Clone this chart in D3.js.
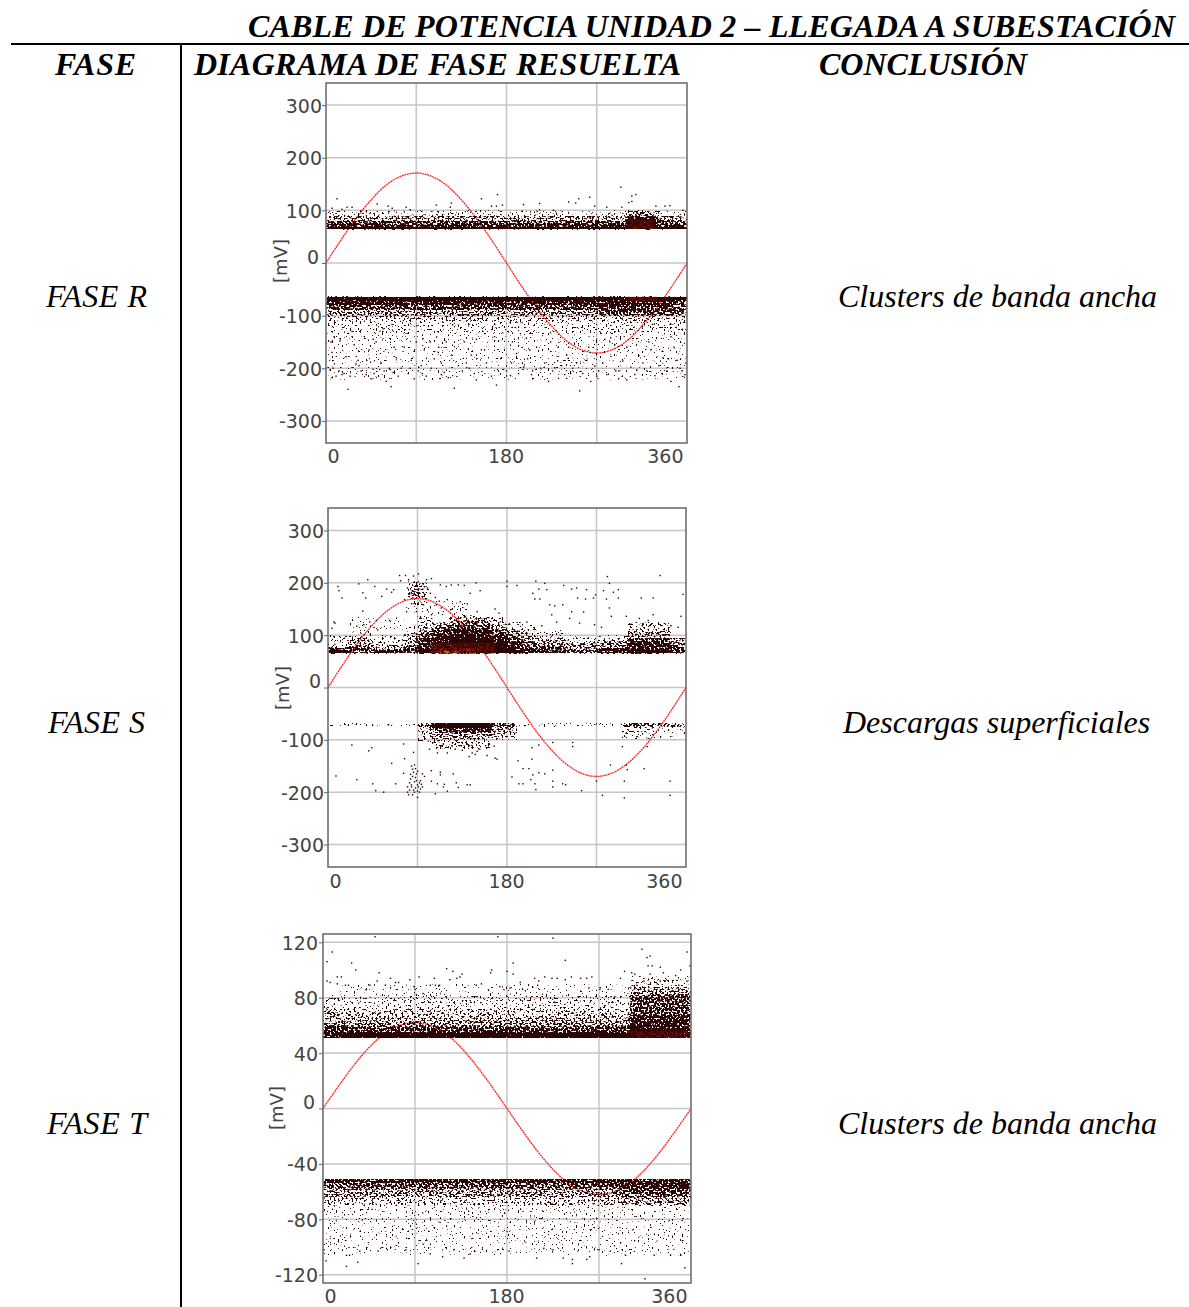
<!DOCTYPE html>
<meta charset="utf-8">

<style type="text/css">
    body { margin: 0; background: #fff; }
    svg { display: block; }
    .head { font: italic bold 32px "Liberation Serif"; fill: #000; }
    .row { font: italic 32px "Liberation Serif"; fill: #000; }
    .tick text, .unit { font-family: "DejaVu Sans"; fill: #444; }
</style>

<body>
<div id="canvas"></div>
</body>

<script src="https://d3js.org/d3.v7.min.js"></script>
<script>

var title = "CABLE DE POTENCIA UNIDAD 2 – LLEGADA A SUBESTACIÓN";
var columns = ["FASE", "DIAGRAMA DE FASE RESUELTA", "CONCLUSIÓN"];
var phases = ["FASE R", "FASE S", "FASE T"];
var conclusions = ["Clusters de banda ancha", "Descargas superficiales", "Clusters de banda ancha"];

var phaseLabels = [0, 180, 360];
var phaseGrid = [90, 180, 270];
var ticksRS = [300, 200, 100, 0, -100, -200, -300];
var ticksT = [120, 80, 40, 0, -40, -80, -120];

// reference wave [phase, mV]
var waveR = [[0,0],[15,44],[30,85],[45,120],[60,148],[75,165],[90,171],[105,165],[120,148],[135,120],[150,85],[165,44],[180,0],[195,-44],[210,-85],[225,-120],[240,-148],[255,-165],[270,-171],[285,-165],[300,-148],[315,-120],[330,-85],[345,-44],[360,0]];
var waveS = [[0,0],[15,44],[30,85],[45,120],[60,147],[75,164],[90,170],[105,164],[120,147],[135,120],[150,85],[165,44],[180,0],[195,-44],[210,-85],[225,-120],[240,-147],[255,-164],[270,-170],[285,-164],[300,-147],[315,-120],[330,-85],[345,-44],[360,0]];
var waveT = [[0,0],[15,16],[30,31],[45,44],[60,54],[75,60],[90,62],[105,60],[120,54],[135,44],[150,31],[165,16],[180,0],[195,-16],[210,-31],[225,-44],[240,-54],[255,-60],[270,-62],[285,-60],[300,-54],[315,-44],[330,-31],[345,-16],[360,0]];

// density [phase from, phase to, mV from, mV to, level]
// level 0-4 = stipple, sparse to dense; 5 solid; 6 faint
var cellsR = [
    [0,300,100,90,0],[0,300,90,80,2],[0,300,80,74,3],[0,300,74,69,4],[0,300,69,64,5],
    [330,360,100,90,0],[330,360,90,80,2],[330,360,80,74,3],[330,360,74,69,4],[330,360,69,64,5],
    [300,330,100,90,2],[300,330,90,84,4],[300,330,84,64,5],
    [0,360,-64,-72,5],[0,270,-72,-80,4],[0,270,-80,-90,3],[0,270,-90,-100,2],
    [270,345,-72,-84,4],[345,360,-72,-84,3],[270,360,-84,-100,3],
    [0,360,-100,-112,1],[0,360,-112,-135,0],[0,360,-135,-222,6]
];
var cellsS = [
    [0,20,100,76,0],[0,20,76,70,4],[0,20,70,65,5],
    [20,45,110,95,0],[20,45,95,80,2],[20,45,80,65,3],
    [45,75,100,82,0],[45,75,82,72,2],[45,75,72,65,4],
    [75,90,125,105,6],[75,90,105,95,1],[75,90,95,80,2],[75,90,80,65,3],
    [90,105,135,115,1],[90,105,115,105,2],[90,105,105,95,3],[90,105,95,75,4],[90,105,75,65,5],
    [105,120,125,115,2],[105,120,115,105,3],[105,120,105,88,4],[105,120,88,65,5],
    [120,135,135,122,2],[120,135,122,112,3],[120,135,112,98,4],[120,135,98,65,5],
    [135,150,138,128,2],[135,150,128,115,3],[135,150,115,100,4],[135,150,100,65,5],
    [150,165,135,122,2],[150,165,122,110,3],[150,165,110,95,4],[150,165,95,65,5],
    [165,180,135,122,1],[165,180,122,110,2],[165,180,110,100,3],[165,180,100,85,4],[165,180,85,65,5],
    [180,195,125,110,1],[180,195,110,98,2],[180,195,98,85,3],[180,195,85,72,4],[180,195,72,65,5],
    [195,210,120,100,1],[195,210,100,88,2],[195,210,88,75,3],[195,210,75,65,4],
    [210,240,110,95,0],[210,240,95,80,2],[210,240,80,70,3],[210,240,70,65,4],
    [240,270,100,85,0],[240,270,85,72,2],[240,270,72,65,3],
    [270,300,100,90,0],[270,300,90,75,2],[270,300,75,65,4],
    [300,345,125,108,1],[300,345,108,95,2],[300,345,95,85,3],[300,345,85,72,4],[300,345,72,65,5],
    [345,360,95,85,2],[345,360,85,72,3],[345,360,72,65,4],
    [84,96,212,205,6],[80,100,205,195,1],[80,100,195,170,2],[84,96,170,158,0],
    [75,140,135,165,6],[20,75,110,135,6],
    [0,90,-68,-74,0],[90,105,-68,-80,2],[90,105,-80,-105,1],
    [105,165,-68,-78,5],[105,165,-78,-88,3],[105,165,-88,-100,2],[105,165,-100,-118,1],
    [165,190,-68,-75,3],[165,190,-75,-90,2],[165,190,-90,-100,1],
    [190,290,-68,-75,0],[295,330,-68,-75,3],[295,330,-75,-100,0],[330,360,-68,-76,2],[330,360,-76,-100,6]
];
var cellsT = [
    [15,300,90,82,6],[15,300,82,72,0],[15,300,72,66,1],[15,300,66,60,2],[15,300,60,55,3],[15,300,55,51,5],
    [0,15,82,72,0],[0,15,72,60,2],[0,15,60,52,4],[0,15,52,51,5],
    [300,360,96,88,0],[300,360,88,82,2],[300,360,82,68,3],[300,360,68,58,4],[300,360,58,51,5],
    [0,290,-51,-54,4],[0,290,-54,-58,3],[0,290,-58,-64,2],[0,290,-64,-70,1],
    [290,360,-51,-58,4],[290,360,-58,-64,3],[290,360,-64,-70,2],
    [0,360,-70,-100,6],[0,360,-100,-106,6]
];

// warm spots [phase from, phase to, mV from, mV to, colour index]
var hotR = [[303,326,82,66,0],[306,309,66,64,2],[323,326,67,64,2],[300,330,-64,-72,0]];
var hotS = [[102,168,85,65,0],[110,150,75,65,1],[113,128,70,65,2]];
var hotT = [[300,360,56,51,0]];

// single dots [phase, mV]
var dotsR = [
    [11,122],[6,104],[16,102],[21,106],[26,106],[51,112],[62,108],[66,104],[80,106],[84,101],[110,110],[125,114],[124,106],[155,122],[171,130],[165,108],[170,108],[176,110],[197,111],[213,113],[213,101],[227,100],[242,116],[249,114],[252,122],[263,125],[268,108],[280,106],[294,144],[305,127],[309,130],[305,117],[302,115],[295,106],[329,108],[338,108],[343,109],[356,100],
    [5,-150],[8,-140],[14,-148],[18,-210],[4,-203],[6,-218],[10,-215],[13,-205],[20,-178],[24,-215],[22,-240],[28,-155],[32,-185],[35,-205],[30,-192],[40,-212],[43,-165],[45,-220],[48,-210],[50,-150],[55,-190],[58,-205],[60,-225],[65,-235],[63,-200],[70,-180],[72,-215],[75,-200],[78,-160],[82,-210],[85,-185],[88,-220],[92,-205],[95,-195],[98,-165],[100,-215],[105,-200],[108,-182],[112,-170],[115,-190],[118,-208],[122,-218],[125,-175],[128,-238],[132,-195],[136,-205],[140,-190],[145,-175],[148,-210],[150,-222],[155,-165],[160,-190],[165,-215],[170,-232],[175,-180],[180,-205],
    [185,-190],[190,-172],[192,-210],[197,-198],[201,-182],[205,-212],[210,-160],[214,-200],[218,-190],[222,-225],[226,-205],[231,-186],[235,-195],[238,-212],[242,-160],[246,-200],[250,-190],[253,-243],[256,-210],[260,-185],[264,-225],[268,-196],[272,-205],[276,-190],[280,-212],[284,-142],[288,-155],[292,-205],[296,-186],[300,-222],[304,-198],[308,-212],[312,-176],[316,-190],[320,-205],[324,-165],[328,-214],[332,-195],[336,-180],[340,-205],[344,-225],[347,-160],[350,-185],[352,-235],[355,-205],[358,-212],[359,-190],
    [6,-170],[26,-130],[47,-145],[68,-160],[90,-150],[104,-150],[120,-150],[138,-150],[150,-145],[168,-140],[186,-150],[203,-165],[224,-150],[240,-175],[262,-160],[278,-145],[283,-150],[300,-160],[322,-150],[344,-140],[57,-125],[7,-200],[16,-212],[33,-195],[47,-202],[67,-208],[84,-200],[96,-210],[115,-212],[143,-200],[172,-205],[184,-214],[206,-205],[228,-199],[244,-210],[270,-215],[289,-205],[310,-203],[335,-210],[353,-200]
];
var dotsS = [
    [10,193],[11,185],[14,171],[31,198],[40,206],[47,193],[35,181],[38,171],[54,174],[59,188],[64,182],[66,187],[72,214],[78,214],[73,204],[81,206],[86,213],[91,217],[99,206],[104,208],[113,196],[119,193],[124,196],[131,196],[137,195],[149,200],[153,185],[143,180],[133,164],[180,203],[180,193],[190,195],[209,203],[212,188],[220,187],[206,180],[208,169],[213,169],[218,199],[223,158],[228,156],[237,195],[245,188],[250,190],[251,171],[260,187],[259,169],[267,171],[269,177],[281,212],[283,199],[277,185],[287,182],[292,187],[280,169],[292,171],[315,171],[327,171],[334,214],[357,178],[236,158],[245,145],[257,144],[283,152],[285,136],[300,136],[313,132],[327,139],[355,136],[6,125],[7,123],[4,113],[36,120],[29,117],[35,146],[79,145],[89,145],[96,158],[104,139],[109,158],[114,152],[225,139],[243,132],[253,123],
    [80,190],[82,178],[100,190],[103,180],[98,170],[77,168],[84,160],[93,135],[100,148],[108,172],[112,165],[120,168],[125,150],[140,160],[150,145],[168,150],[172,142],[200,125],[215,118],[230,125],[268,120],[275,115],[322,128],[345,118],[352,115],[62,128],[50,110],[42,125],
    [8,-169],[24,-110],[29,-176],[45,-184],[48,-197],[56,-200],[68,-184],[64,-145],[41,-121],[44,-115],[76,-108],[77,-136],[86,-124],[76,-164],[104,-159],[113,-162],[113,-167],[126,-165],[104,-179],[110,-184],[117,-185],[116,-190],[129,-182],[131,-191],[140,-186],[143,-186],[108,-203],[120,-198],[168,-135],[170,-137],[185,-171],[191,-140],[196,-155],[202,-155],[205,-137],[192,-184],[196,-184],[204,-176],[208,-184],[209,-195],[206,-167],[212,-163],[218,-165],[226,-158],[226,-179],[226,-190],[236,-184],[239,-186],[255,-197],[270,-179],[276,-206],[284,-148],[300,-148],[301,-157],[298,-179],[298,-211],[318,-155],[344,-179],[344,-206],[205,-115],[212,-110],[226,-105],[246,-113],[296,-113],[321,-113],[246,-105],
    [84,-150],[85,-156],[87,-148],[86,-162],[88,-155],[83,-166],[85,-170],[89,-165],[88,-172],[90,-160],[82,-182],[84,-186],[87,-180],[89,-178],[90,-186],[92,-182],[94,-185],[91,-190],[88,-192],[86,-196],[82,-196],[80,-200],[81,-205],[85,-205],[87,-200],[90,-198],[93,-194],[95,-190],[90,-210],[92,-200],[84,-190],[93,-178],[95,-165],[97,-170],[80,-190],[83,-175],
    [120,-125],[128,-118],[135,-120],[145,-125],[148,-128],[150,-122],[152,-118],[142,-132],[110,-125],[102,-118],[125,-112],[160,-130],[167,-112]
];
var dotsT = [
    [4,106],[9,113],[28,105],[32,100],[51,124],[55,98],[4,92],[7,91],[14,95],[18,95],[14,90],[22,89],[25,89],[53,92],[46,89],[61,89],[66,94],[71,91],[74,91],[85,93],[89,88],[94,95],[90,86],[98,83],[105,89],[109,94],[110,89],[114,89],[121,101],[127,99],[124,93],[131,94],[136,97],[134,95],[150,89],[155,90],[165,100],[164,98],[171,124],[173,88],[180,99],[186,105],[186,97],[183,87],[193,91],[198,85],[207,94],[211,92],[210,89],[217,95],[224,94],[225,123],[229,94],[237,107],[237,93],[243,95],[252,94],[258,94],[263,95],[260,87],[271,86],[279,86],[291,94],[295,99],[302,98],[305,97],[301,87],[312,115],[317,109],[320,110],[318,103],[322,103],[330,102],[333,98],[320,97],[330,92],[335,92],[345,96],[350,100],[356,113],[359,103],[348,89],[356,92],[327,90],[314,92],[307,89],
    [3,-110],[23,-114],[34,-111],[23,-106],[26,-106],[54,-103],[63,-102],[81,-102],[93,-112],[105,-105],[117,-107],[138,-108],[144,-105],[171,-102],[182,-103],[209,-108],[225,-102],[235,-108],[244,-112],[244,-109],[258,-109],[261,-107],[292,-112],[296,-106],[315,-123],[324,-106],[340,-106],[350,-106],[354,-115],[281,-103],[270,-102],[216,-101],[128,-102],[98,-98],[1,-102],[36,-103]
];

var levelOpacity = [0.3, 0.4, 0.5, 0.62, 0.76, 1, 0.22];
var hotColors = ["#6a0c04", "#a81806", "#f0600f"];
var dotColor = "#2b0404";

var svg = d3.select("#canvas").append("svg")
    .attr("width", 1189)
    .attr("height", 1307);

var defs = svg.append("defs");

// turns the opacity of the cells into a grain of dots
var stipple = defs.append("filter")
    .attr("id", "stipple")
    .attr("filterUnits", "userSpaceOnUse")
    .attr("x", 300).attr("y", 60).attr("width", 420).attr("height", 1240)
    .attr("color-interpolation-filters", "sRGB");
stipple.append("feGaussianBlur").attr("in", "SourceGraphic").attr("stdDeviation", "1.5 0").attr("result", "soft");
stipple.append("feTurbulence")
    .attr("type", "fractalNoise").attr("baseFrequency", "0.5 0.55")
    .attr("numOctaves", 1).attr("seed", 7).attr("result", "noise");
stipple.append("feColorMatrix").attr("in", "noise").attr("type", "matrix")
    .attr("values", "0 0 0 0 0  0 0 0 0 0  0 0 0 0 0  1.8 0 0 0 -0.4")
    .attr("result", "grain");
stipple.append("feComposite")
    .attr("in", "soft").attr("in2", "grain")
    .attr("operator", "arithmetic")
    .attr("k1", 0).attr("k2", 1).attr("k3", 1).attr("k4", -1)
    .attr("result", "sum");
var steep = stipple.append("feComponentTransfer").attr("in", "sum").attr("result", "mask");
steep.append("feFuncA").attr("type", "linear").attr("slope", 12).attr("intercept", 0);
stipple.append("feFlood").attr("flood-color", dotColor).attr("result", "ink");
stipple.append("feComposite").attr("in", "ink").attr("in2", "mask").attr("operator", "in");

// warm areas are speckled too, not smooth
var warm = defs.append("filter")
    .attr("id", "warm")
    .attr("filterUnits", "userSpaceOnUse")
    .attr("x", 300).attr("y", 60).attr("width", 420).attr("height", 1240)
    .attr("color-interpolation-filters", "sRGB");
warm.append("feGaussianBlur").attr("in", "SourceGraphic").attr("stdDeviation", "1.5 0.3").attr("result", "soft");
warm.append("feTurbulence")
    .attr("type", "fractalNoise").attr("baseFrequency", "0.45")
    .attr("numOctaves", 1).attr("seed", 3).attr("result", "noise");
warm.append("feColorMatrix").attr("in", "noise").attr("type", "matrix")
    .attr("values", "0 0 0 0 0  0 0 0 0 0  0 0 0 0 0  5 0 0 0 -2")
    .attr("result", "grain");
warm.append("feComposite").attr("in", "soft").attr("in2", "grain").attr("operator", "in");

var panels = [
    { id: "R", left: 326, right: 687, top: 83, bottom: 443, yMax: 342, ticks: ticksRS, wave: waveR, cells: cellsR, hot: hotR, dots: dotsR, unitX: 281, unitY: 261, labelEnd: 4, labelY: 463, endGap: 4 },
    { id: "S", left: 328, right: 686, top: 508, bottom: 867, yMax: 343, ticks: ticksRS, wave: waveS, cells: cellsS, hot: hotS, dots: dotsS, unitX: 283, unitY: 688, labelEnd: 4, labelY: 888, endGap: 4 },
    { id: "T", left: 323, right: 691, top: 934, bottom: 1283, yMax: 126, ticks: ticksT, wave: waveT, cells: cellsT, hot: hotT, dots: dotsT, unitX: 277, unitY: 1108, labelEnd: 5, labelY: 1303, endGap: 4 }
];

panels.forEach(drawPanel);

function drawPanel(p) {
    var x = d3.scaleLinear().domain([0, 360]).range([p.left, p.right]);
    var y = d3.scaleLinear().domain([p.yMax, -p.yMax]).range([p.top, p.bottom]);
    var g = svg.append("g");

    g.append("clipPath").attr("id", "clip" + p.id)
        .append("rect")
        .attr("x", p.left).attr("y", p.top)
        .attr("width", p.right - p.left).attr("height", p.bottom - p.top);

    // grid
    g.selectAll(".gx").data(phaseGrid).enter().append("line")
        .attr("x1", function(d){ return x(d); }).attr("x2", function(d){ return x(d); })
        .attr("y1", p.top).attr("y2", p.bottom)
        .attr("stroke", "#c6c6c6").attr("stroke-width", 1.5);
    g.selectAll(".gy").data(p.ticks).enter().append("line")
        .attr("x1", p.left).attr("x2", p.right)
        .attr("y1", function(d){ return y(d); }).attr("y2", function(d){ return y(d); })
        .attr("stroke", "#c6c6c6").attr("stroke-width", 1.5);

    var plot = g.append("g").attr("clip-path", "url(#clip" + p.id + ")");

    var line = d3.line()
        .x(function(d){ return x(d[0]); })
        .y(function(d){ return y(d[1]); })
        .curve(d3.curveMonotoneX);
    plot.append("path").datum(p.wave)
        .attr("d", line)
        .attr("fill", "none")
        .attr("stroke", "#ff2020")
        .attr("stroke-width", 1.3)
        .attr("stroke-dasharray", "2 0.6");

    function cellAttrs(sel) {
        sel.attr("x", function(d){ return x(d[0]); })
            .attr("width", function(d){ return x(d[1]) - x(d[0]); })
            .attr("y", function(d){ return Math.min(y(d[2]), y(d[3])); })
            .attr("height", function(d){ return Math.abs(y(d[2]) - y(d[3])); });
    }

    plot.append("g").attr("filter", "url(#stipple)")
        .selectAll("rect").data(p.cells).enter().append("rect")
        .call(cellAttrs)
        .attr("fill", "#000")
        .attr("fill-opacity", function(d){ return levelOpacity[d[4]]; });

    plot.append("g").attr("filter", "url(#warm)")
        .selectAll("rect").data(p.hot).enter().append("rect")
        .call(cellAttrs)
        .attr("fill", function(d){ return hotColors[d[4]]; });

    plot.selectAll(".dot").data(p.dots).enter().append("rect")
        .attr("x", function(d){ return x(d[0]) - 0.7; })
        .attr("y", function(d){ return y(d[1]) - 0.7; })
        .attr("width", 1.4)
        .attr("height", 1.4)
        .attr("fill", dotColor);

    // frame
    g.append("rect")
        .attr("x", p.left).attr("y", p.top)
        .attr("width", p.right - p.left).attr("height", p.bottom - p.top)
        .attr("fill", "none")
        .attr("stroke", "#666")
        .attr("stroke-width", 1.5);

    // axes
    var yAxis = g.append("g")
        .attr("transform", "translate(" + p.left + ",0)")
        .call(d3.axisLeft(y).tickValues(p.ticks).tickSize(4).tickFormat(String));
    yAxis.select(".domain").remove();
    yAxis.selectAll("line").attr("stroke", "#666");
    yAxis.selectAll("text")
        .attr("dy", function(d){ return d == 0 ? "0" : "7"; })
        .attr("x", function(d){ return d == 0 ? -(p.labelEnd + 3) : -p.labelEnd; })
        .style("font-size", "19px");

    var xAxis = g.append("g")
        .attr("transform", "translate(0," + p.labelY + ")")
        .call(d3.axisBottom(x).tickValues(phaseLabels).tickSize(0));
    xAxis.select(".domain").remove();
    xAxis.selectAll("text")
        .attr("y", 0)
        .attr("dy", "0")
        .attr("x", function(d){ return d == 0 ? 1 : (d == 360 ? -p.endGap : -1); })
        .style("text-anchor", function(d){ return d == 0 ? "start" : (d == 360 ? "end" : "middle"); })
        .style("font-size", "19px");

    g.append("text")
        .attr("class", "unit")
        .attr("transform", "translate(" + p.unitX + "," + p.unitY + ") rotate(-90)")
        .attr("text-anchor", "middle")
        .attr("dy", "0.35em")
        .style("font-size", "18px")
        .text("[mV]");
}

// table around the plots
svg.append("line").attr("x1", 11).attr("x2", 1189).attr("y1", 44).attr("y2", 44)
    .attr("stroke", "#000").attr("stroke-width", 2);
svg.append("line").attr("x1", 181).attr("x2", 181).attr("y1", 44).attr("y2", 1307)
    .attr("stroke", "#000").attr("stroke-width", 2);

svg.append("text").attr("class", "head").attr("x", 248).attr("y", 37)
    .attr("textLength", 927).text(title);

var headX = [55, 194, 819];
var headW = [81, 487, 208];
svg.selectAll(".colhead").data(columns).enter().append("text")
    .attr("class", "head")
    .attr("x", function(d, i){ return headX[i]; })
    .attr("y", 75)
    .attr("textLength", function(d, i){ return headW[i]; })
    .text(function(d){ return d; });

var rowY = [307, 733, 1134];
var rowX = [46, 48, 47];
var rowW = [101, 97, 100];
var endX = [838, 843, 838];
svg.selectAll(".phase").data(phases).enter().append("text")
    .attr("class", "row")
    .attr("x", function(d, i){ return rowX[i]; })
    .attr("y", function(d, i){ return rowY[i]; })
    .attr("textLength", function(d, i){ return rowW[i]; })
    .text(function(d){ return d; });
svg.selectAll(".concl").data(conclusions).enter().append("text")
    .attr("class", "row")
    .attr("x", function(d, i){ return endX[i]; })
    .attr("y", function(d, i){ return rowY[i]; })
    .text(function(d){ return d; });

</script>
